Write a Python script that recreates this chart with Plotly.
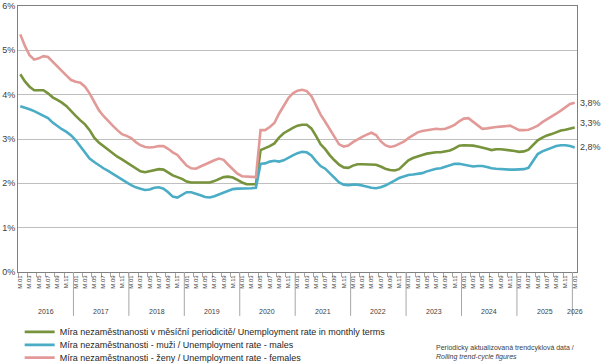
import plotly.graph_objects as go

years = [str(y) for y in range(2016, 2027)]
month_labels = ["M.01", "M.03", "M.05", "M.07", "M.09", "M.11"]

total = [4.46, 4.30, 4.18, 4.10, 4.10, 4.10, 4.03, 3.94, 3.88, 3.82, 3.74, 3.62,
         3.52, 3.42, 3.33, 3.20, 3.03, 2.92, 2.84, 2.75, 2.68, 2.60, 2.54, 2.47,
         2.40, 2.34, 2.27, 2.25, 2.27, 2.30, 2.32, 2.31, 2.25, 2.18, 2.14, 2.10,
         2.04, 2.02, 2.02, 2.02, 2.02, 2.02, 2.05, 2.10, 2.14, 2.15, 2.13, 2.08,
         2.02, 1.98, 1.98, 1.98, 2.75, 2.79, 2.84, 2.90, 3.03, 3.13, 3.20, 3.25,
         3.30, 3.32, 3.32, 3.24, 3.07, 2.88, 2.77, 2.63, 2.52, 2.42, 2.36, 2.35,
         2.40, 2.43, 2.43, 2.43, 2.43, 2.42, 2.38, 2.33, 2.30, 2.29, 2.32, 2.42,
         2.52, 2.57, 2.61, 2.64, 2.67, 2.69, 2.70, 2.70, 2.72, 2.74, 2.79, 2.85,
         2.86, 2.86, 2.85, 2.83, 2.81, 2.78, 2.75, 2.77, 2.77, 2.76, 2.75, 2.73,
         2.71, 2.72, 2.76, 2.86, 2.97, 3.03, 3.08, 3.11, 3.15, 3.19, 3.21, 3.23,
         3.26]

males = [3.74, 3.71, 3.67, 3.63, 3.58, 3.52, 3.47, 3.37, 3.29, 3.22, 3.16, 3.08,
         2.97, 2.84, 2.70, 2.56, 2.48, 2.40, 2.34, 2.28, 2.21, 2.15, 2.07, 2.02,
         1.96, 1.91, 1.88, 1.85, 1.86, 1.90, 1.91, 1.88, 1.80, 1.70, 1.68, 1.74,
         1.80, 1.80, 1.77, 1.73, 1.69, 1.68, 1.71, 1.75, 1.79, 1.84, 1.87, 1.88,
         1.88, 1.89, 1.89, 1.90, 2.44, 2.45, 2.49, 2.51, 2.49, 2.52, 2.58, 2.63,
         2.68, 2.71, 2.70, 2.63, 2.50, 2.39, 2.33, 2.23, 2.11, 2.02, 1.97, 1.96,
         1.97, 1.97, 1.95, 1.92, 1.90, 1.89, 1.91, 1.95, 2.00, 2.06, 2.12, 2.16,
         2.19, 2.20, 2.21, 2.23, 2.27, 2.30, 2.33, 2.34, 2.37, 2.41, 2.44, 2.44,
         2.42, 2.39, 2.38, 2.39, 2.39, 2.37, 2.34, 2.33, 2.32, 2.31, 2.31, 2.31,
         2.31, 2.32, 2.35, 2.50, 2.66, 2.72, 2.76, 2.80, 2.84, 2.86, 2.86, 2.84,
         2.81]

females = [5.36, 5.10, 4.89, 4.79, 4.82, 4.87, 4.85, 4.74, 4.63, 4.53, 4.43, 4.33,
           4.29, 4.27, 4.18, 4.03, 3.83, 3.65, 3.52, 3.40, 3.30, 3.20, 3.11, 3.07,
           3.02, 2.93, 2.86, 2.82, 2.81, 2.82, 2.84, 2.84, 2.78, 2.70, 2.64, 2.52,
           2.40, 2.34, 2.33, 2.38, 2.43, 2.47, 2.52, 2.56, 2.53, 2.42, 2.31, 2.22,
           2.16, 2.15, 2.14, 2.14, 3.20, 3.20, 3.27, 3.36, 3.57, 3.75, 3.92, 4.03,
           4.09, 4.11, 4.08, 3.97, 3.76, 3.55, 3.39, 3.22, 3.05, 2.88, 2.83, 2.85,
           2.93, 3.00, 3.05, 3.10, 3.14, 3.09, 2.95, 2.86, 2.82, 2.84, 2.89, 2.94,
           3.02, 3.09, 3.15, 3.18, 3.20, 3.21, 3.23, 3.22, 3.23, 3.27, 3.32, 3.40,
           3.46, 3.47, 3.39, 3.30, 3.23, 3.24, 3.26, 3.27, 3.28, 3.29, 3.30, 3.25,
           3.20, 3.20, 3.21, 3.25, 3.30, 3.38, 3.44, 3.50, 3.57, 3.64, 3.72, 3.79,
           3.82]

names = [
    "Míra nezaměstnanosti v měsíční periodicitě/ Unemployment rate in monthly terms",
    "Míra nezaměstnanosti - muži / Unemployment rate - males",
    "Míra nezaměstnanosti - ženy / Unemployment rate - females",
]
colors = ["#77933C", "#4BACC6", "#E29A98"]

n = len(total)
x = list(range(n))
tickvals = list(range(0, n, 2))
ticktext = [month_labels[(k % 12) // 2] for k in tickvals]

FONT = "Liberation Sans, Arial, sans-serif"
legend_ids = ["legend", "legend2", "legend3"]
legend_y = [-0.225, -0.274, -0.322]

fig = go.Figure()
for series, name, col, lid in zip([total, males, females], names, colors, legend_ids):
    fig.add_trace(go.Scatter(x=x, y=series, mode="lines", name=name, legend=lid,
                             line=dict(color=col, width=2.6), hoverinfo="skip"))

# end-value labels
for series, dy in zip([total, males, females], [4, 0, 0]):
    v = series[-1]
    fig.add_annotation(x=x[-1], y=v, xref="x", yref="y",
                       text=f"{v:.1f}%".replace(".", ","), showarrow=False,
                       xanchor="left", xshift=3, yshift=dy,
                       font=dict(size=9, color="#404040", family=FONT))

# year separators and labels
for i, yr in enumerate(years):
    start = i * 12 - 0.5
    if i > 0:
        fig.add_shape(type="line", xref="x", yref="paper",
                      x0=start, x1=start, y0=0, y1=-0.165,
                      line=dict(color="#A6A6A6", width=1))
    end = min(start + 12, n - 0.5)
    fig.add_annotation(x=(start + end) / 2, y=-0.147, xref="x", yref="paper",
                       text=yr, showarrow=False, yanchor="middle",
                       font=dict(size=7, color="#404040", family=FONT))

fig.add_annotation(x=0.745, y=-0.262, xref="paper", yref="paper", xanchor="left",
                   yanchor="top", align="left", showarrow=False,
                   text="Periodicky aktualizovaná trendcyklová data /<br><i>Rolling trend-cycle figures</i>",
                   font=dict(size=7, color="#404040", family=FONT))

legend_common = dict(x=0.003, xanchor="left", yanchor="middle",
                     font=dict(size=9, color="#262626", family=FONT),
                     itemwidth=30, bgcolor="rgba(0,0,0,0)", borderwidth=0)

fig.update_layout(
    width=601, height=363,
    margin=dict(l=18, r=24, t=6, b=91, autoexpand=False),
    paper_bgcolor="white", plot_bgcolor="white",
    font=dict(family=FONT, color="#404040"),
    showlegend=True,
    legend=dict(y=legend_y[0], **legend_common),
    legend2=dict(y=legend_y[1], **legend_common),
    legend3=dict(y=legend_y[2], **legend_common),
    xaxis=dict(range=[-0.5, n - 0.5], tickvals=tickvals, ticktext=ticktext,
               tickangle=-90, tickfont=dict(size=6, color="#404040"),
               ticks="", showgrid=False, zeroline=False,
               showline=True, linecolor="#808080", linewidth=1, mirror=True,
               minor=dict(tickvals=[k - 0.5 for k in range(0, n + 1, 2)],
                          ticks="outside", ticklen=4, tickcolor="#A6A6A6",
                          showgrid=False)),
    yaxis=dict(range=[0, 6], tickvals=[0, 1, 2, 3, 4, 5, 6],
               ticktext=[f"{v}%" for v in range(7)],
               tickfont=dict(size=9, color="#404040"),
               showgrid=True, gridcolor="#BFBFBF", gridwidth=1,
               zeroline=False, showline=True, linecolor="#808080", linewidth=1,
               mirror=True, ticks=""),
)

fig.write_html("out.html", config={"displayModeBar": False},
               post_script="document.body.style.margin='0';document.body.style.overflow='hidden';")
